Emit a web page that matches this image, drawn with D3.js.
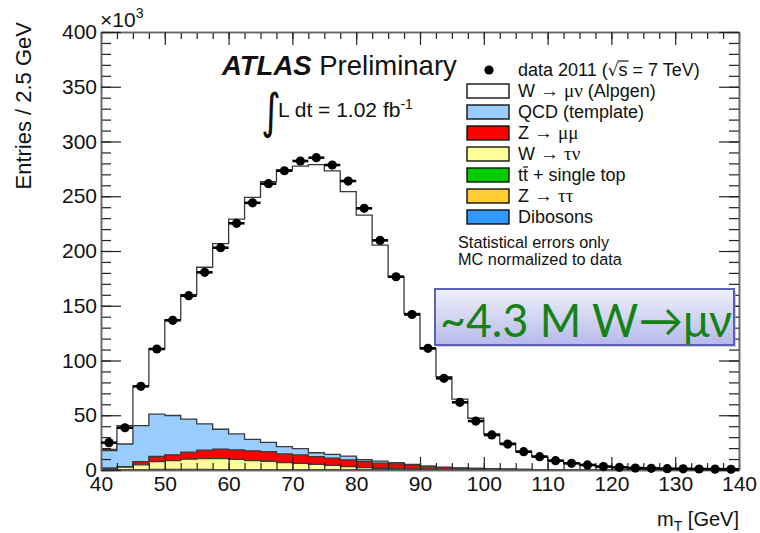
<!DOCTYPE html>
<html>
<head>
<meta charset="utf-8">
<script src="https://cdn.jsdelivr.net/npm/d3@7"></script>
<style>
  body { margin: 0; background: #fff; }
  text { font-family: "Liberation Sans", Arial, sans-serif; fill: #111; }
</style>
</head>
<body>
<div id="chart"></div>
<script>
// m_T bins, 2.5 GeV wide, values in units of 10^3 entries
const binLow = d3.range(40, 140, 2.5)

const dataCounts = [25.0, 38.6, 76.4, 110.5, 136.7, 159.2, 180.5, 203.0, 225.3, 244.0,
    261.5, 273.3, 282.2, 285.2, 278.5, 263.9, 239.0, 209.7, 176.5, 142.0,
    111.1, 83.7, 61.8, 44.7, 32.0, 23.7, 16.7, 12.2, 8.5, 6.1,
    4.6, 3.1, 2.4, 1.8, 1.5, 1.2, 1.1, 0.9, 0.8, 0.7]

// stack components, bottom first
const dibosons = [0.05, 0.05, 0.05, 0.05, 0.05, 0.05, 0.05, 0.05, 0.05, 0.05,
    0.05, 0.05, 0.05, 0.05, 0.05, 0.05, 0.05, 0.05, 0.05, 0.05,
    0.04, 0.04, 0.04, 0.04, 0.03, 0.03, 0.03, 0.03, 0.02, 0.02,
    0.02, 0.02, 0.02, 0.02, 0.01, 0.01, 0.01, 0.01, 0.01, 0.01]
const ztautau = [0.15, 0.2, 0.25, 0.3, 0.3, 0.3, 0.3, 0.25, 0.2, 0.2,
    0.15, 0.15, 0.1, 0.1, 0.1, 0.1, 0.1, 0.05, 0.05, 0.05,
    0.04, 0.03, 0.03, 0.02, 0.02, 0.01, 0.01, 0.01, 0.01, 0.01,
    0, 0, 0, 0, 0, 0, 0, 0, 0, 0]
const ttbar = [0.1, 0.1, 0.1, 0.1, 0.1, 0.1, 0.1, 0.1, 0.1, 0.1,
    0.1, 0.1, 0.1, 0.1, 0.1, 0.1, 0.1, 0.1, 0.1, 0.1,
    0.1, 0.1, 0.1, 0.1, 0.1, 0.1, 0.08, 0.08, 0.08, 0.08,
    0.07, 0.07, 0.06, 0.06, 0.05, 0.05, 0.05, 0.04, 0.04, 0.04]
const wtaunu = [1.2, 2.2, 4.3, 7.3, 8.2, 9.4, 10.0, 10.0, 9.4, 8.3,
    7.7, 6.5, 5.8, 5.0, 4.0, 2.9, 1.9, 1.4, 1.0, 0.7,
    0.5, 0.4, 0.3, 0.2, 0.2, 0.1, 0.1, 0.1, 0.05, 0.05,
    0, 0, 0, 0, 0, 0, 0, 0, 0, 0]
const zmumu = [0.2, 0.4, 3.0, 4.6, 5.2, 6.4, 7.7, 8.6, 8.6, 8.9,
    8.8, 7.9, 7.7, 7.0, 6.6, 6.1, 5.6, 4.6, 4.4, 3.8,
    2.6, 1.6, 1.2, 1.0, 0.8, 0.6, 0.3, 0.1, 0.1, 0.05,
    0, 0, 0, 0, 0, 0, 0, 0, 0, 0]
const qcd = [16.0, 20.8, 32.9, 38.6, 35.9, 30.2, 24.0, 18.2, 14.6, 10.5,
    8.5, 6.6, 5.7, 3.5, 3.4, 3.5, 1.8, 1.9, 1.0, 0.5,
    0.3, 0.4, 0.3, 0.2, 0.1, 0.1, 0.1, 0.05, 0.05, 0.05,
    0.03, 0.03, 0.02, 0.02, 0.02, 0.01, 0.01, 0.01, 0.01, 0.01]
const wmunu = [1.0, 16.8, 36.0, 59.7, 87.4, 113.7, 143.0, 169.6, 196.1, 221.0,
    238.0, 252.7, 258.1, 263.2, 259.0, 241.4, 223.3, 197.3, 169.8, 137.8,
    107.4, 82.7, 62.7, 45.7, 31.8, 23.5, 16.4, 12.0, 8.5, 6.05,
    4.5, 3.1, 2.3, 1.75, 1.35, 1.1, 0.9, 0.8, 0.7, 0.6]

const legendLabels = [
    "W → μν (Alpgen)",
    "QCD (template)",
    "Z → μμ",
    "W → τν",
    "tt + single top",
    "Z → ττ",
    "Dibosons"
]
const legendColors = ['#ffffff', '#99ccff', '#ff0000', '#ffff99', '#00cc00', '#ffcc33', '#3399ff']

const xTicks = [40, 50, 60, 70, 80, 90, 100, 110, 120, 130, 140]
const yTicks = [0, 50, 100, 150, 200, 250, 300, 350, 400]

generate()

function generate(){
    const chart_width = 760
    const chart_height = 533
    const left = 101, right = 739, top = 32, bottom = 470

    var svg = d3.select('#chart')
        .append('svg')
        .attr('width', chart_width)
        .attr('height', chart_height)

    var x_scale = d3.scaleLinear().domain([40, 140]).range([left, right])
    var y_scale = d3.scaleLinear().domain([0, 400]).range([bottom, top])

    // Stack: bottom first, W on top
    var layers = [dibosons, ztautau, ttbar, wtaunu, zmumu, qcd, wmunu]
    var layerColors = ['#3399ff', '#ffcc33', '#00cc00', '#ffff99', '#ff0000', '#99ccff', '#ffffff']
    var rows = binLow.map(function(b, i){
        var r = {}
        layers.forEach(function(l, k){ r[k] = l[i] })
        return r
    })
    var stacked = d3.stack().keys(d3.range(layers.length))(rows)

    // ROOT draws cumulative histograms from 0, largest first
    var hist = svg.append('g').attr('class', 'stack')
    for (var k = stacked.length - 1; k >= 0; k--){
        var pts = []
        stacked[k].forEach(function(d, i){
            pts.push([binLow[i], d[1]])
            pts.push([binLow[i] + 2.5, d[1]])
        })
        hist.append('path')
            .datum(pts)
            .attr('fill', layerColors[k])
            .attr('d', d3.area()
                .x(function(d){ return x_scale(d[0]) })
                .y0(y_scale(0))
                .y1(function(d){ return y_scale(d[1]) }))
        hist.append('path')
            .datum(pts)
            .attr('fill', 'none')
            .attr('stroke', '#3a3a3a')
            .attr('stroke-width', 1.3)
            .attr('d', d3.line()
                .x(function(d){ return x_scale(d[0]) })
                .y(function(d){ return y_scale(d[1]) }))
    }

    // Axes, ticks inward like ROOT
    function styleAxis(g){
        g.selectAll('.domain').attr('stroke', '#666').attr('stroke-width', 1.5)
        g.selectAll('.tick line').attr('stroke', '#222').attr('stroke-width', 1.2)
        g.selectAll('text')
            .style('font-family', '"Liberation Sans", Arial, sans-serif')
            .style('font-size', '21px')
            .attr('fill', '#111')
    }
    var xMinor = d3.range(40, 140.1, 2.5)
    var yMinor = d3.range(0, 400.1, 10)

    svg.append('g')
        .attr('transform', 'translate(0,' + bottom + ')')
        .call(d3.axisBottom(x_scale).tickValues(xMinor).tickSize(-7).tickSizeOuter(0).tickFormat(''))
        .call(styleAxis)
    svg.append('g')
        .attr('transform', 'translate(0,' + bottom + ')')
        .call(d3.axisBottom(x_scale).tickValues(xTicks).tickSize(-13).tickSizeOuter(0).tickPadding(6))
        .call(styleAxis)
    svg.append('g')
        .attr('transform', 'translate(0,' + top + ')')
        .call(d3.axisTop(x_scale).tickValues(xMinor).tickSize(-7).tickSizeOuter(0).tickFormat(''))
        .call(styleAxis)
    svg.append('g')
        .attr('transform', 'translate(0,' + top + ')')
        .call(d3.axisTop(x_scale).tickValues(xTicks).tickSize(-13).tickSizeOuter(0).tickFormat(''))
        .call(styleAxis)

    svg.append('g')
        .attr('transform', 'translate(' + left + ',0)')
        .call(d3.axisLeft(y_scale).tickValues(yMinor).tickSize(-10).tickSizeOuter(0).tickFormat(''))
        .call(styleAxis)
    svg.append('g')
        .attr('transform', 'translate(' + left + ',0)')
        .call(d3.axisLeft(y_scale).tickValues(yTicks).tickSize(-20).tickSizeOuter(0).tickPadding(4))
        .call(styleAxis)
    svg.append('g')
        .attr('transform', 'translate(' + right + ',0)')
        .call(d3.axisRight(y_scale).tickValues(yMinor).tickSize(-10).tickSizeOuter(0).tickFormat(''))
        .call(styleAxis)
    svg.append('g')
        .attr('transform', 'translate(' + right + ',0)')
        .call(d3.axisRight(y_scale).tickValues(yTicks).tickSize(-20).tickSizeOuter(0).tickFormat(''))
        .call(styleAxis)

    // Data points with horizontal bin-width bars
    var pts = svg.append('g').attr('class', 'data')
    pts.selectAll('line')
        .data(dataCounts)
        .enter()
        .append('line')
        .attr('x1', function(d, i){ return x_scale(binLow[i]) })
        .attr('x2', function(d, i){ return x_scale(binLow[i] + 2.5) })
        .attr('y1', function(d){ return y_scale(d) })
        .attr('y2', function(d){ return y_scale(d) })
        .attr('stroke', '#000')
        .attr('stroke-width', 2.6)
    pts.selectAll('circle')
        .data(dataCounts)
        .enter()
        .append('circle')
        .attr('cx', function(d, i){ return x_scale(binLow[i] + 1.25) })
        .attr('cy', function(d){ return y_scale(d) })
        .attr('r', 4.6)
        .attr('fill', '#000')

    // Titles
    var xt = svg.append('text').attr('x', 100).attr('y', 27).style('font-size', '21px')
    xt.append('tspan').text('×10')
    xt.append('tspan').attr('dy', -9).style('font-size', '14px').text('3')

    svg.append('text')
        .attr('transform', 'translate(31,22) rotate(-90)')
        .attr('text-anchor', 'end')
        .style('font-size', '22px')
        .text('Entries / 2.5 GeV')

    var xl = svg.append('text').attr('x', 739).attr('y', 526).attr('text-anchor', 'end').style('font-size', '20px')
    xl.append('tspan').text('m')
    xl.append('tspan').attr('dy', 5).style('font-size', '14px').text('T')
    xl.append('tspan').attr('dy', -5).text(' [GeV]')

    var atl = svg.append('text').attr('x', 222).attr('y', 75).style('font-size', '27.5px')
    atl.append('tspan').style('font-weight', 'bold').style('font-style', 'italic').text('ATLAS')
    atl.append('tspan').text(' Preliminary')

    svg.append('text')
        .attr('transform', 'translate(261,128) scale(0.9,1.15)')
        .style('font-family', '"DejaVu Sans", sans-serif')
        .style('font-size', '42px')
        .text('∫')
    var lum = svg.append('text').attr('x', 278).attr('y', 117).style('font-size', '21px')
    lum.append('tspan').text('L dt = 1.02 fb')
    lum.append('tspan').attr('dy', -8).style('font-size', '14px').text('-1')

    // Legend
    var leg = svg.append('g').attr('class', 'legend')
    leg.append('circle').attr('cx', 489).attr('cy', 70).attr('r', 4.6).attr('fill', '#000')
    var dt = leg.append('text').attr('x', 518).attr('y', 76).style('font-size', '18px')
    dt.append('tspan').text('data 2011 (')
    dt.append('tspan').style('font-family', '"DejaVu Sans", sans-serif').style('font-size', '17px').text('√')
    dt.append('tspan').attr('class', 'sq').text('s')
    dt.append('tspan').text(' = 7 TeV)')
    var sq = dt.select('.sq').node()
    var sb = sq.getBBox()
    leg.append('line')
        .attr('x1', sb.x - 1).attr('x2', sb.x + sb.width + 1)
        .attr('y1', sb.y + 1).attr('y2', sb.y + 1)
        .attr('stroke', '#111').attr('stroke-width', 1.2)

    legendLabels.forEach(function(lbl, i){
        var cy = 91 + i * 21
        leg.append('rect')
            .attr('x', 467).attr('y', cy - 7)
            .attr('width', 42).attr('height', 14)
            .attr('fill', legendColors[i])
            .attr('stroke', '#000').attr('stroke-width', 1.3)
        var t = leg.append('text').attr('x', 518).attr('y', cy + 6).style('font-size', '18px')
        lbl.split(/([→μντ]+)/).forEach(function(part){
            if (part === '') return
            var sp = t.append('tspan').text(part)
            if (/[→μντ]/.test(part)){
                sp.style('font-family', '"Liberation Serif", serif').style('font-size', '19px')
            }
        })
        if (lbl.indexOf('tt +') === 0){
            // bar over the second t
            var n = t.node()
            var a = n.getStartPositionOfChar(1), b = n.getEndPositionOfChar(1)
            leg.append('line')
                .attr('x1', a.x).attr('x2', b.x)
                .attr('y1', cy - 8).attr('y2', cy - 8)
                .attr('stroke', '#111').attr('stroke-width', 1.2)
        }
    })

    svg.append('text').attr('x', 458).attr('y', 248).style('font-size', '16.3px').attr('fill', '#222').text('Statistical errors only')
    svg.append('text').attr('x', 458).attr('y', 265).style('font-size', '16.3px').attr('fill', '#222').text('MC normalized to data')

    // Annotation box
    var defs = svg.append('defs')
    var grad = defs.append('linearGradient').attr('id', 'boxgrad')
        .attr('x1', 0).attr('y1', 0).attr('x2', 0).attr('y2', 1)
    grad.append('stop').attr('offset', '0%').attr('stop-color', '#f0f1fb')
    grad.append('stop').attr('offset', '100%').attr('stop-color', '#b6b9ea')
    svg.append('rect')
        .attr('x', 437).attr('y', 291).attr('width', 299).attr('height', 56)
        .attr('fill', '#9a9aa8').attr('opacity', 0.5)
    svg.append('rect')
        .attr('x', 435).attr('y', 289).attr('width', 299).attr('height', 56)
        .attr('fill', 'url(#boxgrad)')
        .attr('stroke', '#5a60b6').attr('stroke-width', 2)
    svg.append('text')
        .attr('x', 440).attr('y', 337)
        .attr('textLength', 292).attr('lengthAdjust', 'spacingAndGlyphs')
        .style('font-family', 'Lato, "Open Sans", sans-serif')
        .style('font-size', '46px')
        .style('fill', '#158215')
        .text('~4.3 M W→μν')
}
</script>
</body>
</html>
